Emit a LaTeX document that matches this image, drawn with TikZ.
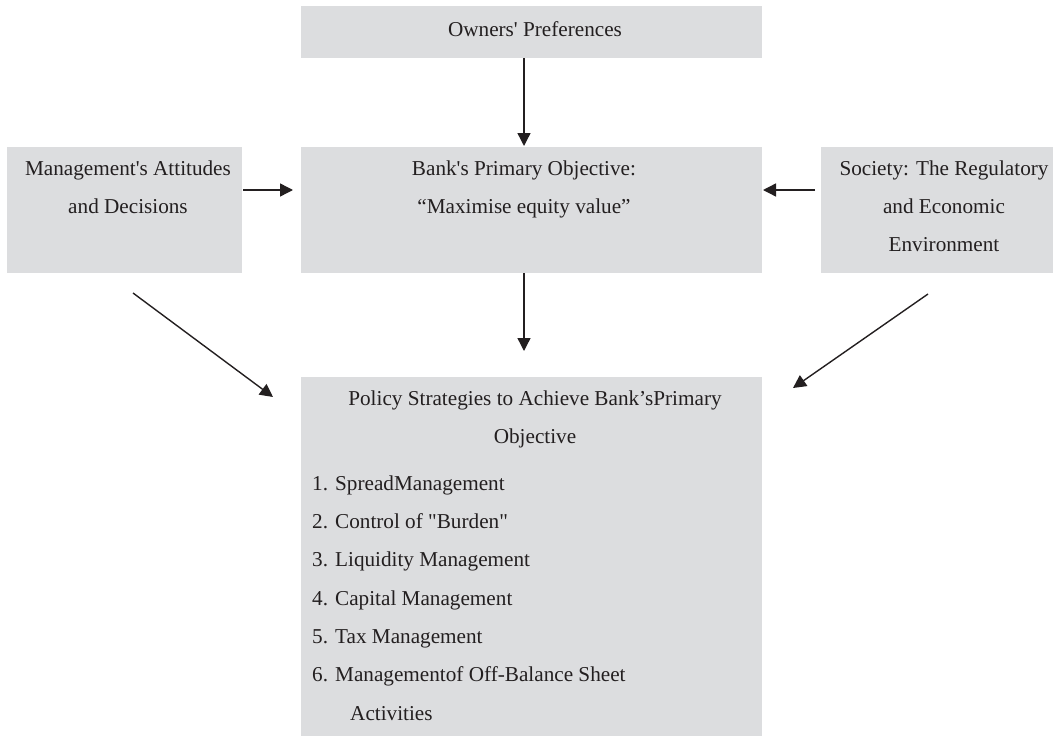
\documentclass[tikz,border=0pt]{standalone}
\usepackage{fontspec}
\setmainfont{Liberation Serif}
\usetikzlibrary{arrows.meta}
\definecolor{boxgray}{RGB}{220,221,223}
\definecolor{ink}{RGB}{35,31,32}
\begin{document}
\begin{tikzpicture}[x=1pt,y=-1pt,
  panel/.style={fill=boxgray, draw=none},
  txt/.style={inner sep=0pt, text=ink, font=\fontsize{21.2}{37.7}\selectfont},
  listtxt/.style={inner sep=0pt, text=ink, align=left, font=\fontsize{21.2}{38.3}\selectfont},
  flow/.style={draw=ink, line width=1.4pt, -{Triangle[length=13pt,width=13pt]}}
]
\useasboundingbox (0,0) rectangle (1053,736);

% grey panels
\path[panel] (301,6) rectangle (762,58);
\path[panel] (7,147) rectangle (242,273);
\path[panel] (301,147) rectangle (762,273);
\path[panel] (821,147) rectangle (1053,273);
\path[panel] (301,377) rectangle (762,736);

\node[inner sep=0pt] (owners) at (531.5,32) {};
\node[inner sep=0pt] (mgmt) at (124.5,210) {};
\node[inner sep=0pt] (bank) at (531.5,210) {};
\node[inner sep=0pt] (society) at (937,210) {};
\node[inner sep=0pt] (policy) at (531.5,556) {};

% labels (a multi-line node's base is the baseline of its last line)
\node[txt, anchor=base] (ownersT) at (535,36) {Owners\textquotesingle{} Preferences};
\node[txt, anchor=base, align=center] (mgmtT) at (128,213)
  {Management\textquotesingle{}s Attitudes\\and Decisions};
\node[txt, anchor=base, align=center] (bankT) at (524,213)
  {Bank\textquotesingle{}s Primary Objective:\\“Maximise equity value”};
\node[txt, anchor=base, align=center] (societyT) at (944,251)
  {Society: The Regulatory\\and Economic\\Environment};
\node[txt, anchor=base, align=center] (policyT) at (535,443)
  {Policy Strategies to Achieve Bank’sPrimary\\Objective};
\node[listtxt, anchor=base west] (policyL) at (312,720)
  {1. SpreadManagement\\
   2. Control of \textquotedbl Burden\textquotedbl\\
   3. Liquidity Management\\
   4. Capital Management\\
   5. Tax Management\\
   6. Managementof Off-Balance Sheet\\
   \hspace*{38pt}Activities};

% connector end points
\coordinate (o1) at (524,58);
\coordinate (o2) at (524,146);
\coordinate (m1) at (243,190);
\coordinate (m2) at (293,190);
\coordinate (s1) at (815,190);
\coordinate (s2) at (763,190);
\coordinate (b1) at (524,273);
\coordinate (b2) at (524,351);
\coordinate (d1) at (133,293);
\coordinate (d2) at (273,397);
\coordinate (e1) at (928,294);
\coordinate (e2) at (793,388);

\draw[flow] (o1) -- (o2);
\draw[flow] (m1) -- (m2);
\draw[flow] (s1) -- (s2);
\draw[flow] (b1) -- (b2);
\draw[flow] (d1) -- (d2);
\draw[flow] (e1) -- (e2);
\end{tikzpicture}
\end{document}
